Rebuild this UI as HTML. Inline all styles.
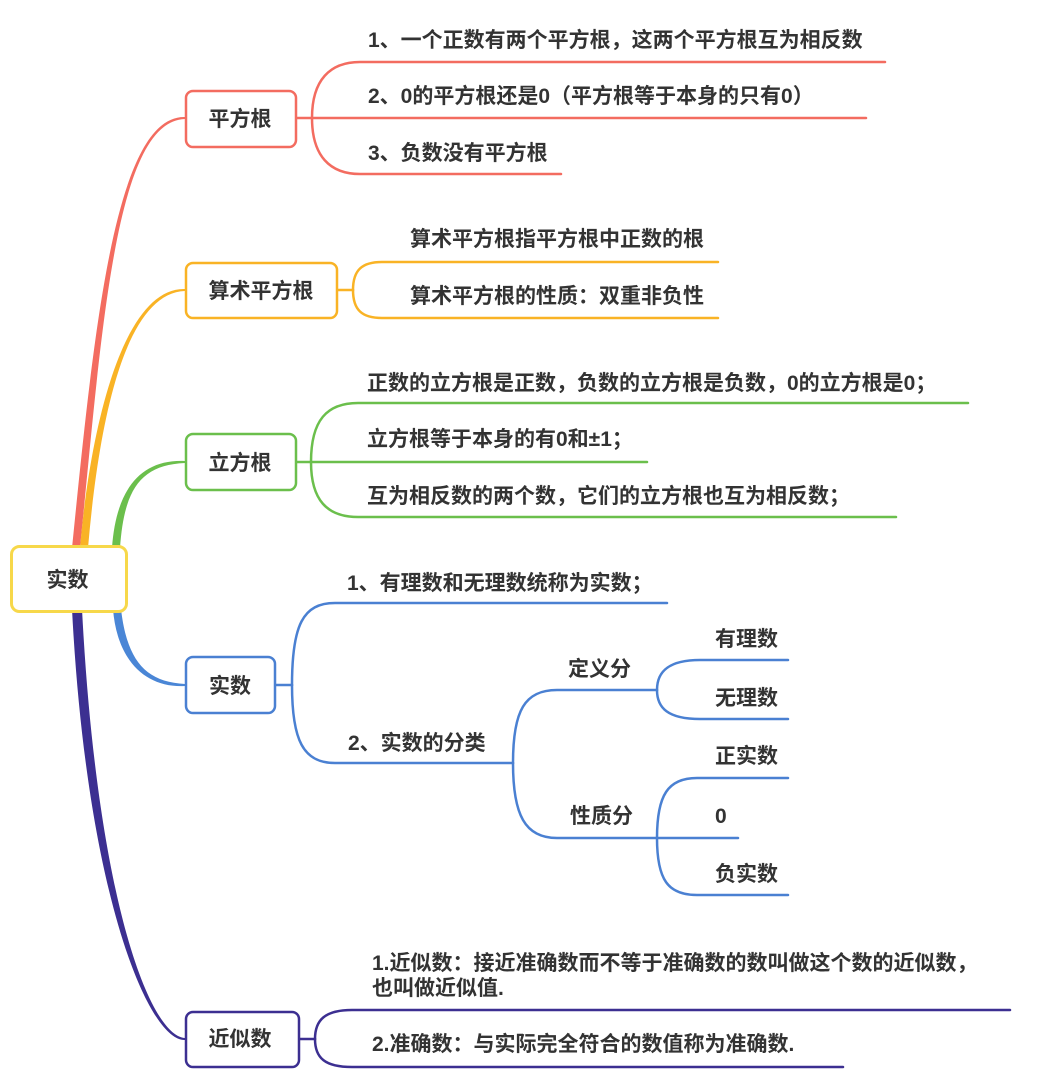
<!DOCTYPE html>
<html><head><meta charset="utf-8"><style>
html,body{margin:0;padding:0;background:#fff;}
svg{display:block;}
text{font-family:"Liberation Sans","Noto Sans CJK SC",sans-serif;font-size:21px;font-weight:600;fill:#333;}
</style></head><body>
<svg width="1050" height="1090" viewBox="0 0 1050 1090" xmlns="http://www.w3.org/2000/svg">
<rect width="1050" height="1090" fill="#fff"/>
<!-- main tapered branches -->
<path d="M72,548 C94,330 115,115 185,117 L185,119 C115,121 102,330 80,548 Z" fill="#f36c60"/>
<path d="M80,548 C91,420 125,287 185,289 L185,291 C125,293 99,420 88,548 Z" fill="#f9b325"/>
<path d="M112,548 C116,490 140,459 185,461 L185,463 C140,465 124,490 120,548 Z" fill="#6bbf4c"/>
<path d="M121,609 C127,660 145,682 185,684 L185,686 C145,688 117,660 113,609 Z" fill="#4a86d6"/>
<path d="M82,609 C97,900 150,1036 185,1038 L185,1040 C150,1042 87,900 72,609 Z" fill="#3c2f91"/>

<g fill="none" stroke-width="2.5" stroke-linecap="round">
<!-- red -->
<g stroke="#f36c60">
<path d="M297,118 H866"/>
<path d="M312,118 C312,80 330,62 360,62 H885"/>
<path d="M312,118 C312,156 330,174 360,174 H561"/>
</g>
<!-- orange -->
<g stroke="#f9b325">
<path d="M337,290 H353"/>
<path d="M353,290 C353,270 362,262 382,262 H718"/>
<path d="M353,290 C353,310 362,318 382,318 H718"/>
</g>
<!-- green -->
<g stroke="#6bbf4c">
<path d="M296,462 H647"/>
<path d="M311,462 C311,420 327,403 358,403 H968"/>
<path d="M311,462 C311,500 327,517 358,517 H896"/>
</g>
<!-- blue -->
<g stroke="#4a80d2">
<path d="M275,685 H292"/>
<path d="M292,685 C292,625 303,603 335,603 H667"/>
<path d="M292,685 C292,740 303,763 335,763 H513"/>
<path d="M513,763 C513,710 525,690 557,690 H657"/>
<path d="M513,763 C513,815 525,838 557,838 H657"/>
<path d="M657,690 C657,672 668,660 700,660 H788"/>
<path d="M657,690 C657,708 668,719 700,719 H788"/>
<path d="M657,838 C657,795 668,778 697,778 H788"/>
<path d="M657,838 H738"/>
<path d="M657,838 C657,880 668,895 697,895 H788"/>
</g>
<!-- purple -->
<g stroke="#3c2f91">
<path d="M299,1039 H315"/>
<path d="M315,1039 C315,1020 325,1010 352,1010 H1010"/>
<path d="M315,1039 C315,1058 325,1067 352,1067 H843"/>
</g>
</g>

<!-- nodes -->
<rect x="11.5" y="546.5" width="115" height="65" rx="8" fill="#fff" stroke="#f7d84a" stroke-width="3"/>
<rect x="186" y="91" width="110" height="56" rx="7" fill="#fff" stroke="#f36c60" stroke-width="2.5"/>
<rect x="186" y="263" width="151" height="55" rx="7" fill="#fff" stroke="#f9b325" stroke-width="2.5"/>
<rect x="186" y="434" width="110" height="56" rx="7" fill="#fff" stroke="#6bbf4c" stroke-width="2.5"/>
<rect x="186" y="657" width="89" height="56" rx="7" fill="#fff" stroke="#4a80d2" stroke-width="2.5"/>
<rect x="186" y="1012" width="113" height="55" rx="7" fill="#fff" stroke="#3c2f91" stroke-width="2.5"/>

<!-- node labels -->
<text x="67.5" y="587" text-anchor="middle">实数</text>
<text x="240" y="126" text-anchor="middle">平方根</text>
<text x="261" y="298" text-anchor="middle">算术平方根</text>
<text x="240" y="470" text-anchor="middle">立方根</text>
<text x="230" y="693" text-anchor="middle">实数</text>
<text x="240" y="1046" text-anchor="middle">近似数</text>

<!-- red items -->
<text x="368" y="47">1、一个正数有两个平方根，这两个平方根互为相反数</text>
<text x="368" y="103">2、0的平方根还是0（平方根等于本身的只有0）</text>
<text x="368" y="160">3、负数没有平方根</text>
<!-- orange items -->
<text x="410" y="246">算术平方根指平方根中正数的根</text>
<text x="410" y="303">算术平方根的性质：双重非负性</text>
<!-- green items -->
<text x="367" y="390">正数的立方根是正数，负数的立方根是负数，0的立方根是0；</text>
<text x="367" y="446">立方根等于本身的有0和±1；</text>
<text x="367" y="503">互为相反数的两个数，它们的立方根也互为相反数；</text>
<!-- blue items -->
<text x="347" y="590">1、有理数和无理数统称为实数；</text>
<text x="348" y="750">2、实数的分类</text>
<text x="568" y="676">定义分</text>
<text x="570" y="823">性质分</text>
<text x="715" y="646">有理数</text>
<text x="715" y="705">无理数</text>
<text x="715" y="763">正实数</text>
<text x="715" y="823">0</text>
<text x="715" y="881">负实数</text>
<!-- purple items -->
<text x="372" y="970">1.近似数：接近准确数而不等于准确数的数叫做这个数的近似数，</text>
<text x="372" y="995">也叫做近似值.</text>
<text x="372" y="1051">2.准确数：与实际完全符合的数值称为准确数.</text>
</svg>
</body></html>
